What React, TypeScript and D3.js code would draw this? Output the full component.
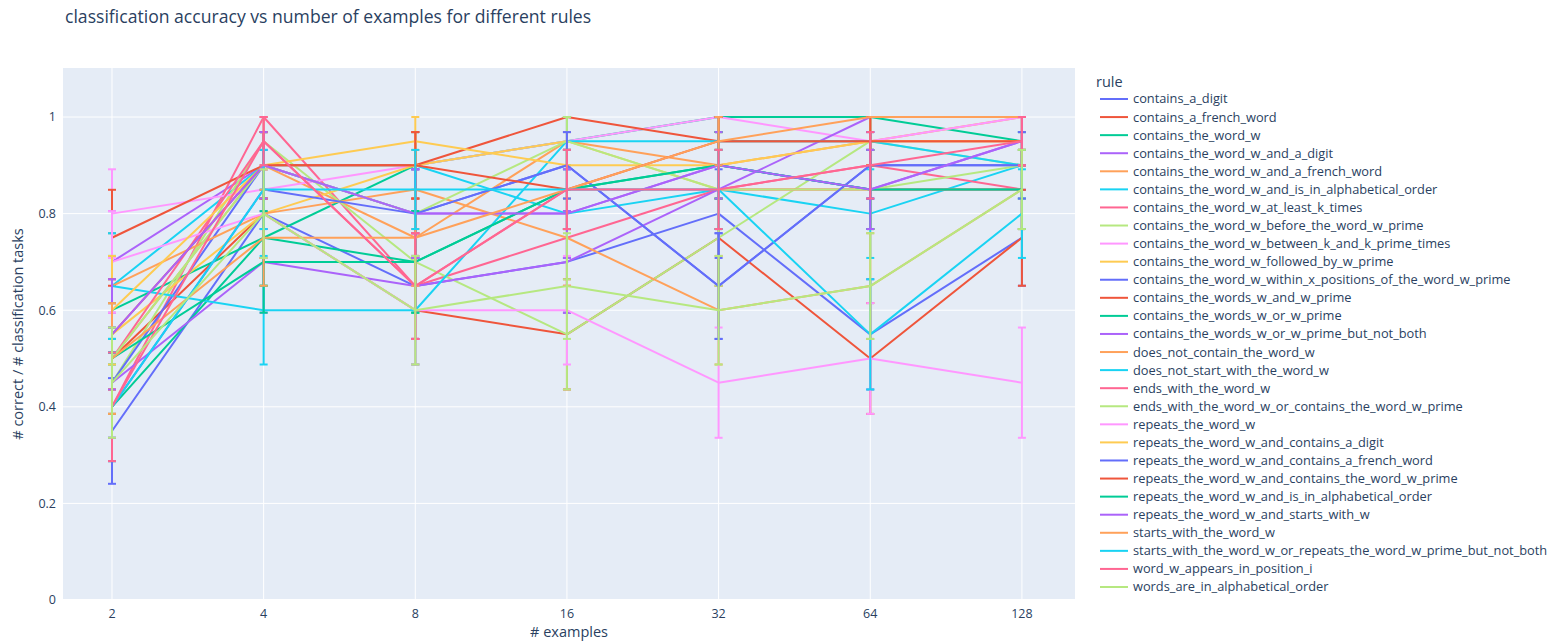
import * as d3 from 'd3';
import React, { useEffect, useRef } from 'react';

// number of examples shown to the model (x axis, log scale)
const examples = [2, 4, 8, 16, 32, 64, 128];
const yTicks = [0, 0.2, 0.4, 0.6, 0.8, 1];

// accuracy per rule, one value per entry of `examples`
const containsADigit = [0.35, 0.8, 0.65, 0.7, 0.8, 0.55, 0.75];
const containsAFrenchWord = [0.5, 0.8, 0.6, 0.55, 0.75, 0.5, 0.75];
const containsTheWordW = [0.6, 0.75, 0.9, 0.95, 1.0, 1.0, 0.95];
const wAndADigit = [0.7, 0.9, 0.8, 0.8, 0.9, 0.85, 0.95];
const wAndAFrenchWord = [0.5, 0.9, 0.75, 0.95, 0.9, 0.95, 1.0];
const wAndAlphabetical = [0.65, 0.9, 0.9, 0.8, 0.85, 0.8, 0.9];
const wAtLeastKTimes = [0.4, 1.0, 0.65, 0.75, 0.85, 0.9, 0.85];
const wBeforeWPrime = [0.45, 0.95, 0.7, 0.55, 0.75, 0.95, 0.9];
const wBetweenKTimes = [0.8, 0.85, 0.9, 0.95, 1.0, 0.95, 1.0];
const wFollowedByWPrime = [0.55, 0.8, 0.9, 0.95, 0.85, 0.85, 0.85];
const wWithinXPositions = [0.45, 0.9, 0.8, 0.9, 0.65, 0.9, 0.9];
const wordsWAndWPrime = [0.75, 0.9, 0.9, 1.0, 0.95, 0.95, 0.95];
const wordsWOrWPrime = [0.4, 0.75, 0.7, 0.85, 0.9, 0.85, 0.85];
const wOrWPrimeNotBoth = [0.45, 0.7, 0.65, 0.7, 0.85, 1.0, 1.0];
const doesNotContainW = [0.65, 0.8, 0.85, 0.75, 0.6, 0.65, 0.85];
const doesNotStartWithW = [0.65, 0.6, 0.6, 0.95, 0.95, 0.95, 0.9];
const endsWithW = [0.5, 0.95, 0.65, 0.85, 0.85, 0.85, 0.85];
const endsWithWOrWPrime = [0.5, 0.9, 0.8, 0.95, 0.85, 0.85, 0.9];
const repeatsW = [0.7, 0.8, 0.6, 0.6, 0.45, 0.5, 0.45];
const repeatsWAndDigit = [0.6, 0.9, 0.95, 0.9, 0.9, 0.95, 0.95];
const repeatsWAndFrench = [0.4, 0.85, 0.8, 0.9, 0.65, 0.9, 0.9];
const repeatsWAndWPrime = [0.55, 0.9, 0.9, 0.85, 0.95, 0.95, 0.95];
const repeatsWAlphabetical = [0.5, 0.7, 0.7, 0.85, 0.9, 0.85, 0.85];
const repeatsWStartsW = [0.55, 0.9, 0.8, 0.8, 0.9, 0.85, 0.95];
const startsWithW = [0.5, 0.75, 0.75, 0.85, 0.95, 1.0, 1.0];
const startsWOrRepeatsWPrime = [0.4, 0.85, 0.85, 0.85, 0.85, 0.55, 0.8];
const wordWInPositionI = [0.4, 0.95, 0.65, 0.85, 0.85, 0.9, 0.95];
const wordsAlphabetical = [0.45, 0.8, 0.6, 0.65, 0.6, 0.65, 0.85];

// each point is the mean over this many classification tasks
const TASKS = 20;

const series = [
  { rule: 'contains_a_digit', values: containsADigit },
  { rule: 'contains_a_french_word', values: containsAFrenchWord },
  { rule: 'contains_the_word_w', values: containsTheWordW },
  { rule: 'contains_the_word_w_and_a_digit', values: wAndADigit },
  { rule: 'contains_the_word_w_and_a_french_word', values: wAndAFrenchWord },
  { rule: 'contains_the_word_w_and_is_in_alphabetical_order', values: wAndAlphabetical },
  { rule: 'contains_the_word_w_at_least_k_times', values: wAtLeastKTimes },
  { rule: 'contains_the_word_w_before_the_word_w_prime', values: wBeforeWPrime },
  { rule: 'contains_the_word_w_between_k_and_k_prime_times', values: wBetweenKTimes },
  { rule: 'contains_the_word_w_followed_by_w_prime', values: wFollowedByWPrime },
  { rule: 'contains_the_word_w_within_x_positions_of_the_word_w_prime', values: wWithinXPositions },
  { rule: 'contains_the_words_w_and_w_prime', values: wordsWAndWPrime },
  { rule: 'contains_the_words_w_or_w_prime', values: wordsWOrWPrime },
  { rule: 'contains_the_words_w_or_w_prime_but_not_both', values: wOrWPrimeNotBoth },
  { rule: 'does_not_contain_the_word_w', values: doesNotContainW },
  { rule: 'does_not_start_with_the_word_w', values: doesNotStartWithW },
  { rule: 'ends_with_the_word_w', values: endsWithW },
  { rule: 'ends_with_the_word_w_or_contains_the_word_w_prime', values: endsWithWOrWPrime },
  { rule: 'repeats_the_word_w', values: repeatsW },
  { rule: 'repeats_the_word_w_and_contains_a_digit', values: repeatsWAndDigit },
  { rule: 'repeats_the_word_w_and_contains_a_french_word', values: repeatsWAndFrench },
  { rule: 'repeats_the_word_w_and_contains_the_word_w_prime', values: repeatsWAndWPrime },
  { rule: 'repeats_the_word_w_and_is_in_alphabetical_order', values: repeatsWAlphabetical },
  { rule: 'repeats_the_word_w_and_starts_with_w', values: repeatsWStartsW },
  { rule: 'starts_with_the_word_w', values: startsWithW },
  { rule: 'starts_with_the_word_w_or_repeats_the_word_w_prime_but_not_both', values: startsWOrRepeatsWPrime },
  { rule: 'word_w_appears_in_position_i', values: wordWInPositionI },
  { rule: 'words_are_in_alphabetical_order', values: wordsAlphabetical },
];

const colorway = [
  '#636efa', '#EF553B', '#00cc96', '#ab63fa', '#FFA15A',
  '#19d3f3', '#FF6692', '#B6E880', '#FF97FF', '#FECB52',
];

const W = 1550;
const H = 642;
const margin = { top: 68, right: 475, bottom: 42, left: 63 };
const FONT = '"Open Sans", verdana, arial, sans-serif';
const TEXT = '#2a3f5f';

const App = () => {
  const svgRef = useRef<SVGSVGElement>(null);

  useEffect(() => {
    document.body.style.margin = '0';
    const svg = d3.select(svgRef.current);
    svg.selectAll('*').remove();

    const innerW = W - margin.left - margin.right;
    const innerH = H - margin.top - margin.bottom;

    const x = d3
      .scaleLog()
      .base(2)
      .domain([2 ** 0.677, 2 ** 7.35])
      .range([0, innerW]);
    const y = d3.scaleLinear().domain([0, 1.1015]).range([innerH, 0]);

    svg.append('rect').attr('width', W).attr('height', H).attr('fill', '#fff');

    svg
      .append('text')
      .attr('x', 65)
      .attr('y', 23)
      .attr('font-family', FONT)
      .attr('font-size', 17.6)
      .attr('fill', TEXT)
      .text('classification accuracy vs number of examples for different rules');

    const g = svg
      .append('g')
      .attr('transform', `translate(${margin.left},${margin.top})`);

    g.append('rect')
      .attr('width', innerW)
      .attr('height', innerH)
      .attr('fill', '#E5ECF6');

    // grid
    g.selectAll('.ygrid')
      .data(yTicks)
      .enter()
      .append('line')
      .attr('x1', 0)
      .attr('x2', innerW)
      .attr('y1', (d) => y(d))
      .attr('y2', (d) => y(d))
      .attr('stroke', '#fff')
      .attr('stroke-width', (d) => (d === 0 ? 2 : 1));

    g.selectAll('.xgrid')
      .data(examples)
      .enter()
      .append('line')
      .attr('x1', (d) => x(d))
      .attr('x2', (d) => x(d))
      .attr('y1', 0)
      .attr('y2', innerH)
      .attr('stroke', '#fff')
      .attr('stroke-width', 1);

    // tick labels
    g.selectAll('.ylab')
      .data(yTicks)
      .enter()
      .append('text')
      .attr('x', -7)
      .attr('y', (d) => y(d))
      .attr('dy', '0.35em')
      .attr('text-anchor', 'end')
      .attr('font-family', FONT)
      .attr('font-size', 12.5)
      .attr('fill', TEXT)
      .text((d) => String(d));

    g.selectAll('.xlab')
      .data(examples)
      .enter()
      .append('text')
      .attr('x', (d) => x(d))
      .attr('y', innerH + 18)
      .attr('text-anchor', 'middle')
      .attr('font-family', FONT)
      .attr('font-size', 12.5)
      .attr('fill', TEXT)
      .text((d) => String(d));

    g.append('text')
      .attr('x', innerW / 2)
      .attr('y', innerH + 37)
      .attr('text-anchor', 'middle')
      .attr('font-family', FONT)
      .attr('font-size', 14.5)
      .attr('fill', TEXT)
      .text('# examples');

    g.append('text')
      .attr('transform', `translate(${-40},${innerH / 2}) rotate(-90)`)
      .attr('text-anchor', 'middle')
      .attr('font-family', FONT)
      .attr('font-size', 14.5)
      .attr('fill', TEXT)
      .text('# correct / # classification tasks');

    const line = d3
      .line<number>()
      .defined((d) => d != null)
      .x((d, i) => x(examples[i]))
      .y((d) => y(d));

    // standard error of the mean over the tasks
    const sem = (p: number) => Math.sqrt((p * (1 - p)) / (TASKS - 1));

    series.forEach((s, k) => {
      const color = colorway[k % colorway.length];
      const tg = g.append('g');
      const pts = s.values.map((v, i) => ({ v, ex: examples[i], e: sem(v) }));

      const eb = tg
        .selectAll('.eb')
        .data(pts.filter((p) => p.e > 0))
        .enter()
        .append('g');
      eb.append('line')
        .attr('x1', (p) => x(p.ex))
        .attr('x2', (p) => x(p.ex))
        .attr('y1', (p) => y(p.v - p.e))
        .attr('y2', (p) => y(p.v + p.e))
        .attr('stroke', color)
        .attr('stroke-width', 2);
      [-1, 1].forEach((sign) => {
        eb.append('line')
          .attr('x1', (p) => x(p.ex) - 4)
          .attr('x2', (p) => x(p.ex) + 4)
          .attr('y1', (p) => y(p.v + sign * p.e))
          .attr('y2', (p) => y(p.v + sign * p.e))
          .attr('stroke', color)
          .attr('stroke-width', 2);
      });

      tg.append('path')
        .datum(s.values)
        .attr('fill', 'none')
        .attr('stroke', color)
        .attr('stroke-width', 2)
        .attr('stroke-linejoin', 'round')
        .attr('d', line);
    });

    // legend
    const lg = svg.append('g').attr('transform', `translate(${1092},${0})`);
    lg.append('text')
      .attr('x', 4)
      .attr('y', 87)
      .attr('font-family', FONT)
      .attr('font-size', 14.5)
      .attr('fill', TEXT)
      .text('rule');

    const legendY = d3
      .scalePoint<string>()
      .domain(series.map((s) => s.rule))
      .range([99, 587]);

    const items = lg
      .selectAll('.item')
      .data(series)
      .enter()
      .append('g')
      .attr('transform', (d) => `translate(0,${legendY(d.rule)})`);
    items
      .append('line')
      .attr('x1', 8)
      .attr('x2', 36)
      .attr('stroke', (d, i) => colorway[i % colorway.length])
      .attr('stroke-width', 2);
    items
      .append('text')
      .attr('x', 41)
      .attr('dy', '0.35em')
      .attr('font-family', FONT)
      .attr('font-size', 12.8)
      .attr('fill', TEXT)
      .text((d) => d.rule);
  }, []);

  return <svg ref={svgRef} width={W} height={H} style={{ display: 'block' }} />;
};

export default App;
